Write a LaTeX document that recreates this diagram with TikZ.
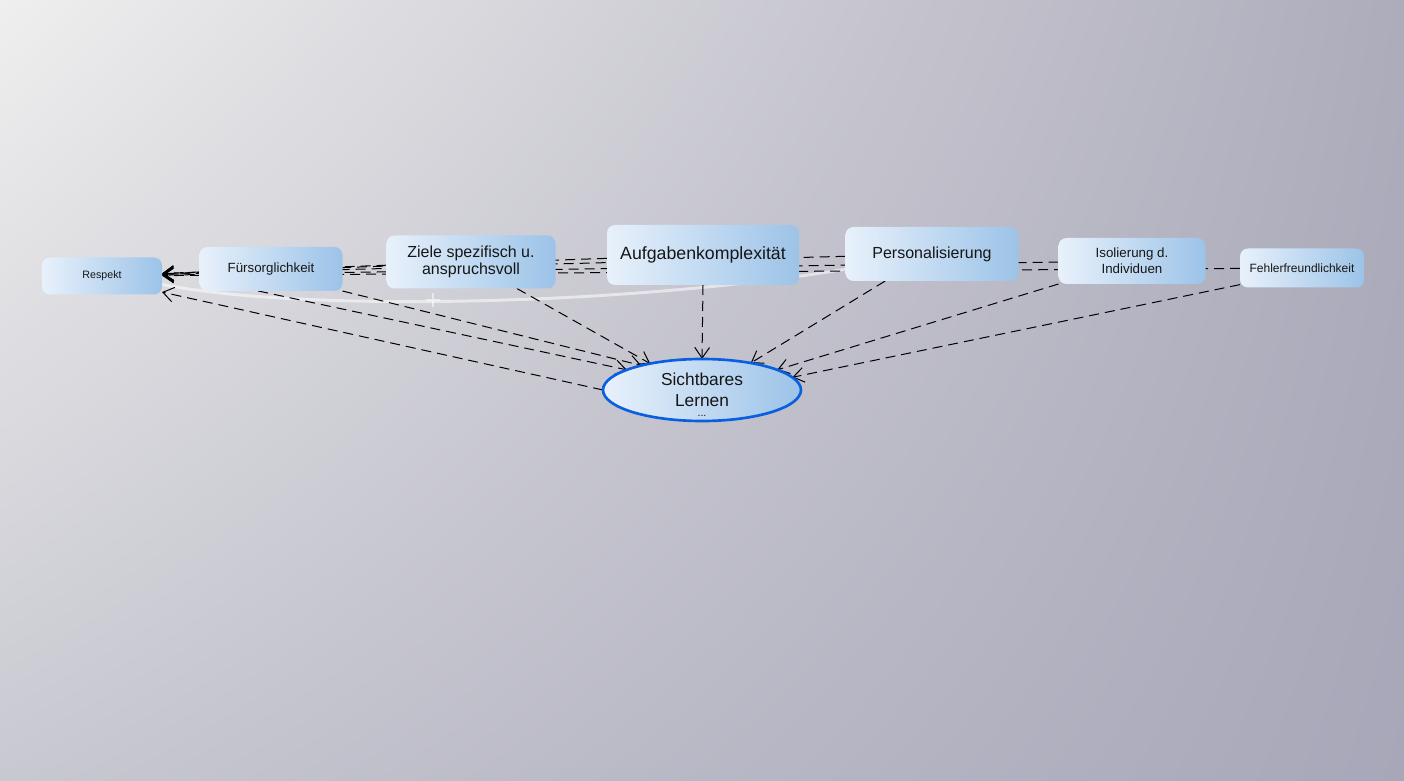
\documentclass[tikz,border=0pt]{standalone}
\usepackage{fontspec}
\setmainfont{Liberation Sans}
\usetikzlibrary{arrows.meta,shapes.geometric,shadings}
\definecolor{ink}{HTML}{161616}
\definecolor{cpale}{HTML}{E8F1FB}
\definecolor{cblue}{HTML}{9CC3E8}
\definecolor{rim}{HTML}{0A5FE0}
\definecolor{bgtl}{HTML}{EFEFEF}
\definecolor{bgtr}{HTML}{ADACBB}
\definecolor{bgbl}{HTML}{C8C8D1}
\definecolor{bgbr}{HTML}{A8A7B9}
\pgfdeclarelayer{back}
\pgfsetlayers{back,main}
\tikzset{
  concept/.style={rounded corners=6pt,left color=cpale,right color=cblue,inner sep=0pt,outer sep=0pt,align=center,text=ink},
  link/.style={draw=black,line width=0.75pt,dash pattern=on 7.5pt off 4.5pt,-{Straight Barb[length=8pt,width=11pt]}},
  trace/.style={white,opacity=0.55,line width=2.2pt}
}

\begin{document}
\begin{tikzpicture}[x=0.75pt,y=-0.75pt]
\useasboundingbox (0,0) rectangle (1404,781);
% the concepts, placed at their pixel positions
\node[concept,minimum width=90pt,minimum height=27.75pt,font=\fontsize{8}{9.6}\selectfont] (resp) at (102,276) {Respekt};
\node[concept,minimum width=107.25pt,minimum height=33pt,font=\fontsize{10}{12}\selectfont] (fuer) at (271,269) {Fürsorglichkeit};
\node[concept,minimum width=126.75pt,minimum height=39.75pt,font=\fontsize{12}{12.75}\selectfont] (ziel) at (471,262) {Ziele spezifisch u.\\anspruchsvoll};
\node[concept,minimum width=144pt,minimum height=45pt,font=\fontsize{13.3}{15}\selectfont] (aufg) at (703,255) {Aufgabenkomplexität};
\node[concept,minimum width=129.75pt,minimum height=40.5pt,font=\fontsize{12}{14}\selectfont] (pers) at (932,254) {Personalisierung};
\node[concept,minimum width=110.25pt,minimum height=34.5pt,font=\fontsize{10}{12}\selectfont] (isol) at (1132,261) {Isolierung d.\\Individuen};
\node[concept,minimum width=93pt,minimum height=29.25pt,font=\fontsize{9}{10.8}\selectfont] (fehl) at (1302,268) {Fehlerfreundlichkeit};
% the goal
\node[concept,ellipse,draw=rim,line width=2pt,minimum width=148.5pt,minimum height=46.5pt,font=\fontsize{13}{15.75}\selectfont] (sl) at (702,390) {Sichtbares\\Lernen};
\node[text=ink,font=\fontsize{8}{8}\selectfont,inner sep=0pt,text height=1pt,text depth=0pt,anchor=base] (sldots) at (702,416) {...};
\begin{pgfonlayer}{back}
 \shade[upper left=bgtl,upper right=bgtr,lower left=bgbl,lower right=bgbr] (0,0) rectangle (1404,781);
 % the faint trace behind the links
 \draw[trace] (resp.-8) .. controls (300,312) and (620,306) .. (pers.190);
 \coordinate (plusmark) at (433,300);
 \draw[trace,line width=1.6pt] ([xshift=-5.5pt]plusmark) -- ([xshift=5.5pt]plusmark)
   ([yshift=-5.5pt]plusmark) -- ([yshift=5.5pt]plusmark);
 % links back to Respekt
 \foreach \src in {fehl,isol,pers,aufg,ziel,fuer} {\draw[link] (\src) -- (resp);}
 % links down to the goal
 \draw[link] (fuer.240) -- (sl.165);
 \draw[link] (fuer.south east) -- (sl.158);
 \draw[link] (ziel.-30) -- (sl.153);
 \draw[link] (aufg.south) -- (sl.north);
 \draw[link] (pers.210) -- (sl.29);
 \draw[link] (isol.south west) -- (sl.15);
 \draw[link] (fehl.195) -- (sl.8);
 \draw[link] (sl.west) -- (resp.-15);
\end{pgfonlayer}
\end{tikzpicture}
\end{document}
